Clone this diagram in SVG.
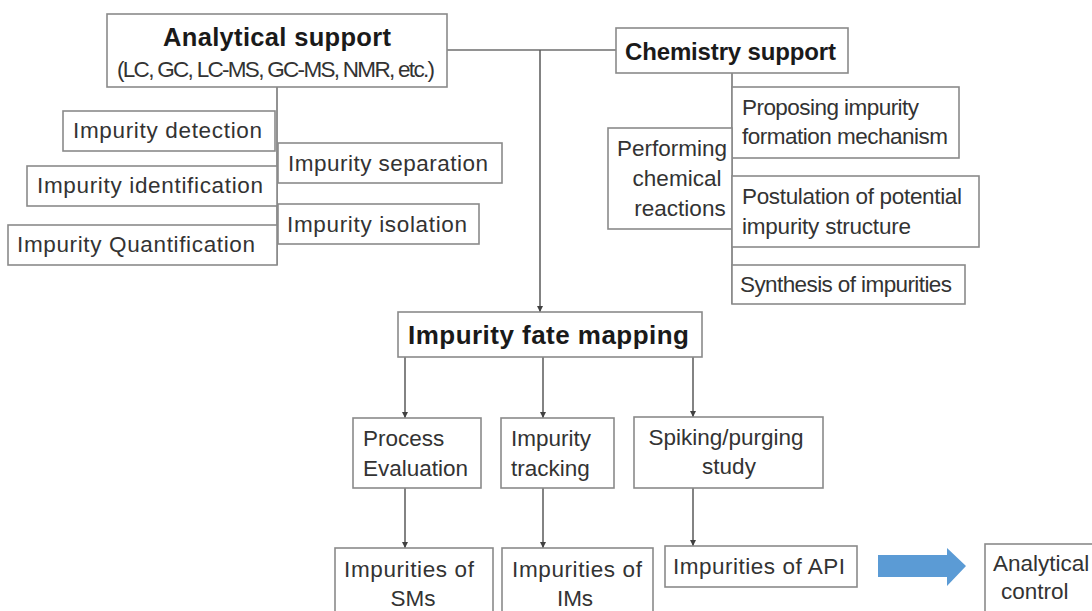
<svg xmlns="http://www.w3.org/2000/svg" width="1092" height="611" viewBox="0 0 1092 611">
<defs>
<marker id="ah" viewBox="0 0 10 10" refX="10" refY="5" markerWidth="6" markerHeight="6" markerUnits="userSpaceOnUse" orient="auto">
<path d="M0,0 L10,5 L0,10 z" fill="#404040"/>
</marker>
<style>
.box{fill:#ffffff;stroke:#8a8a8a;stroke-width:1.6}
.t{font-family:"Liberation Sans",Arial,sans-serif;font-size:22.5px;fill:#333333}
.b{font-family:"Liberation Sans",Arial,sans-serif;font-weight:bold;fill:#1a1a1a}
.ln{fill:none;stroke:#6e6e6e;stroke-width:1.5}
.ar{fill:none;stroke:#5a5a5a;stroke-width:1.5;marker-end:url(#ah)}
.m{text-anchor:middle}
</style>
</defs>
<rect width="1092" height="611" fill="#ffffff"/>
<g id="connectors">
<line class="ln" x1="447" y1="50" x2="616" y2="50"/>
<line class="ar" x1="540" y1="50" x2="540" y2="312"/>
<line class="ln" x1="277" y1="87" x2="277" y2="265"/>
<line class="ln" x1="732" y1="73" x2="732" y2="304"/>
<line class="ar" x1="405" y1="357" x2="405" y2="418"/>
<line class="ar" x1="543" y1="357" x2="543" y2="418"/>
<line class="ar" x1="693" y1="357" x2="693" y2="417"/>
<line class="ar" x1="405" y1="488" x2="405" y2="548"/>
<line class="ar" x1="543" y1="488" x2="543" y2="548"/>
<line class="ar" x1="693" y1="488" x2="693" y2="546"/>
<path d="M878,555 L947,555 L947,548 L966,566 L947,586 L947,577 L878,577 z" fill="#5b9bd5"/>
</g>
<g id="analytical-support">
<rect class="box" x="107" y="14" width="340" height="73"/>
<text class="b" x="163" y="46" font-size="25.5" textLength="228">Analytical support</text>
<text class="t" x="117" y="77" font-size="16.5" textLength="318">(LC, GC, LC-MS, GC-MS, NMR, etc.)</text>
</g>
<g id="chemistry-support">
<rect class="box" x="616" y="28" width="232" height="45"/>
<text class="b" x="625" y="60" font-size="24" textLength="211">Chemistry support</text>
</g>
<g id="impurity-detection">
<rect class="box" x="63" y="111" width="212" height="40"/>
<text class="t" x="73" y="138" textLength="189">Impurity detection</text>
</g>
<g id="impurity-separation">
<rect class="box" x="278" y="143" width="224" height="40"/>
<text class="t" x="288" y="171" textLength="200">Impurity separation</text>
</g>
<g id="impurity-identification">
<rect class="box" x="27" y="166" width="250" height="40"/>
<text class="t" x="37" y="193" textLength="226">Impurity identification</text>
</g>
<g id="impurity-isolation">
<rect class="box" x="278" y="204" width="201" height="40"/>
<text class="t" x="287" y="232" textLength="180">Impurity isolation</text>
</g>
<g id="impurity-quantification">
<rect class="box" x="8" y="225" width="269" height="40"/>
<text class="t" x="17" y="252" textLength="238">Impurity Quantification</text>
</g>
<g id="proposing-mechanism">
<rect class="box" x="732" y="87" width="227" height="71"/>
<text class="t" x="742" y="115" font-size="21.5" textLength="177">Proposing impurity</text>
<text class="t" x="742" y="144" font-size="21.5" textLength="206">formation mechanism</text>
</g>
<g id="performing-reactions">
<rect class="box" x="608" y="128" width="124" height="101"/>
<text class="t m" x="672" y="156">Performing</text>
<text class="t m" x="677" y="186">chemical</text>
<text class="t m" x="680" y="216">reactions</text>
</g>
<g id="postulation-structure">
<rect class="box" x="732" y="176" width="247" height="71"/>
<text class="t" x="742" y="204" textLength="220">Postulation of potential</text>
<text class="t" x="742" y="234" textLength="169">impurity structure</text>
</g>
<g id="synthesis-impurities">
<rect class="box" x="732" y="265" width="233" height="39"/>
<text class="t" x="740" y="292" textLength="212">Synthesis of impurities</text>
</g>
<g id="impurity-fate-mapping">
<rect class="box" x="398" y="312" width="304" height="45"/>
<text class="b" x="408" y="344" font-size="26" textLength="281">Impurity fate mapping</text>
</g>
<g id="process-evaluation">
<rect class="box" x="353" y="418" width="128" height="70"/>
<text class="t" x="363" y="446">Process</text>
<text class="t" x="363" y="476">Evaluation</text>
</g>
<g id="impurity-tracking">
<rect class="box" x="501" y="418" width="113" height="70"/>
<text class="t" x="511" y="446">Impurity</text>
<text class="t" x="511" y="476">tracking</text>
</g>
<g id="spiking-purging">
<rect class="box" x="634" y="417" width="189" height="71"/>
<text class="t m" x="726" y="445">Spiking/purging</text>
<text class="t m" x="729" y="474">study</text>
</g>
<g id="impurities-sms">
<rect class="box" x="335" y="548" width="158" height="80"/>
<text class="t" x="344" y="577" textLength="130">Impurities of</text>
<text class="t m" x="413" y="606">SMs</text>
</g>
<g id="impurities-ims">
<rect class="box" x="502" y="548" width="151" height="80"/>
<text class="t" x="512" y="577" textLength="130">Impurities of</text>
<text class="t m" x="575" y="606">IMs</text>
</g>
<g id="impurities-api">
<rect class="box" x="665" y="546" width="192" height="41"/>
<text class="t" x="673" y="574" textLength="172">Impurities of API</text>
</g>
<g id="analytical-control">
<rect class="box" x="985" y="544" width="130" height="90"/>
<text class="t" x="993" y="571">Analytical</text>
<text class="t" x="1001" y="599">control</text>
</g>
</svg>
